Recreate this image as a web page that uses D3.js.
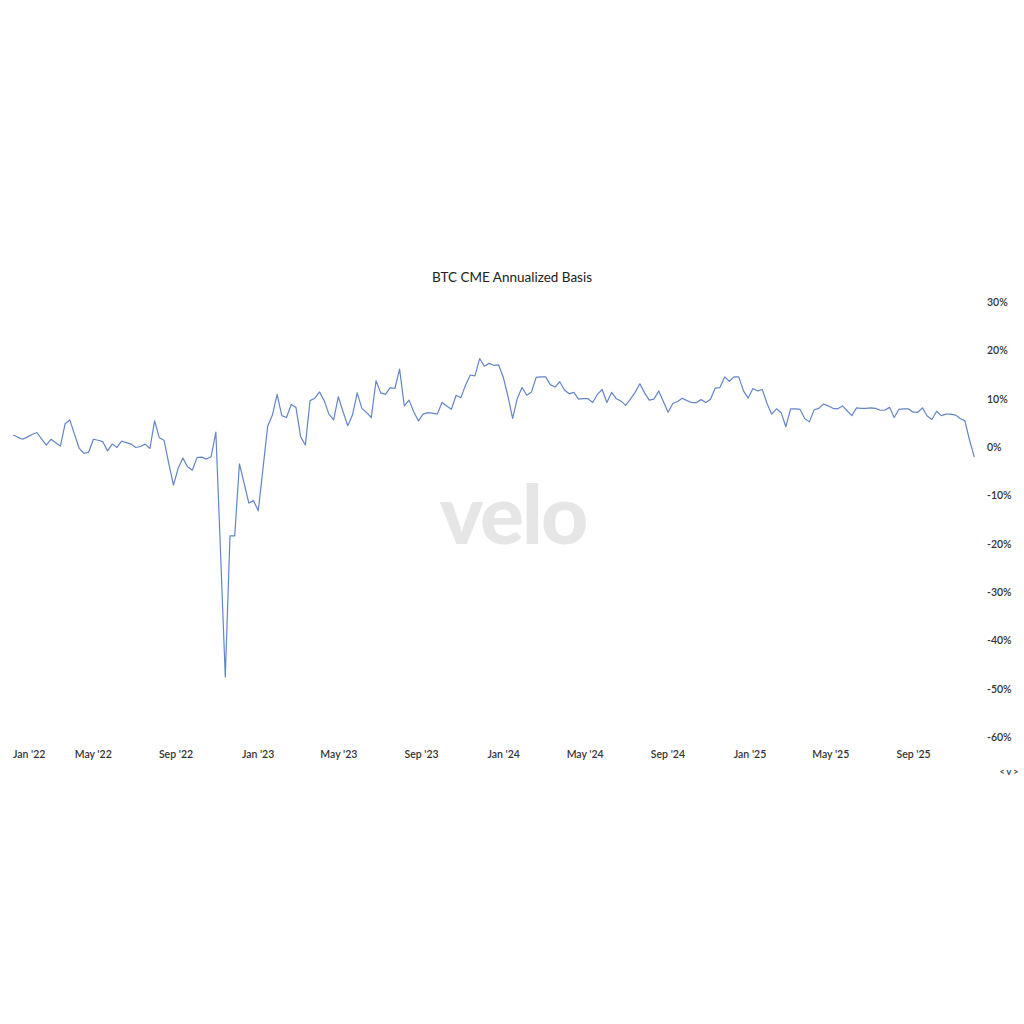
<!DOCTYPE html>
<html>
<head>
<meta charset="utf-8">
<script src="https://cdn.jsdelivr.net/npm/d3@7"></script>
<style>
  html, body { margin: 0; padding: 0; background: #ffffff; }
  svg { display: block; }
</style>
</head>
<body>
<svg id="chart" width="1024" height="1024"></svg>
<script>
// ---------- data ----------
const chartTitle = "BTC CME Annualized Basis";
const firstWeek = "2022-01-03";   // weekly readings (Mondays)
const lastWeek = "2025-12-01";
// annualized basis, % (one value per week)
const basisValues = [
  2.5, 2.0, 1.6, 2.1, 2.6, 3.0, 1.7, 0.4, 1.6, 0.9,
  0.2, 4.8, 5.6, 2.6, -0.3, -1.3, -1.1, 1.6, 1.4, 1.1,
  -0.8, 0.6, -0.1, 1.2, 0.9, 0.6, -0.1, 0.1, 0.6, -0.3,
  5.4, 1.9, 1.4, -3.4, -7.9, -4.4, -2.3, -4.1, -4.8, -2.2,
  -2.1, -2.5, -2.0, 3.1, -22.0, -47.6, -18.4, -18.4, -3.5, -7.5,
  -11.6, -11.1, -13.2, -4.5, 4.3, 6.6, 10.9, 6.5, 6.1, 8.8,
  8.2, 2.1, 0.4, 9.6, 10.1, 11.4, 9.6, 6.8, 5.6, 10.4,
  7.3, 4.4, 6.6, 11.2, 8.0, 7.1, 6.1, 13.7, 11.2, 10.9,
  12.3, 12.1, 16.1, 8.5, 9.7, 7.3, 5.4, 6.8, 7.1, 7.0,
  6.8, 9.2, 8.5, 7.8, 10.7, 10.2, 12.8, 14.9, 14.7, 18.3,
  16.7, 17.3, 16.9, 17.0, 14.5, 10.5, 5.9, 10.1, 12.3, 10.7,
  11.4, 14.4, 14.5, 14.5, 12.9, 12.4, 13.5, 11.8, 11.0, 11.3,
  9.9, 10.0, 10.0, 9.2, 10.9, 11.9, 9.2, 11.3, 10.0, 9.5,
  8.6, 9.9, 11.3, 13.1, 11.2, 9.7, 9.9, 11.6, 9.4, 7.2,
  9.0, 9.4, 10.1, 9.6, 9.2, 9.2, 9.8, 9.2, 9.9, 12.2,
  12.3, 14.5, 13.6, 14.5, 14.5, 11.6, 10.1, 12.1, 11.6, 11.9,
  9.0, 6.8, 7.9, 7.1, 4.2, 7.9, 7.9, 7.8, 5.9, 5.2,
  7.7, 8.0, 8.9, 8.5, 8.0, 7.9, 8.5, 7.5, 6.5, 8.1,
  8.0, 8.0, 8.1, 8.0, 7.6, 7.6, 8.2, 6.1, 7.8, 7.9,
  7.9, 7.2, 7.2, 8.1, 6.4, 5.7, 7.4, 6.5, 6.8, 6.8,
  6.6, 5.9, 5.4, 1.4, -2.1
];
const yTickValues = [30, 20, 10, 0, -10, -20, -30, -40, -50, -60];
const xTickDates = ["2022-01-01", "2022-05-01", "2022-09-01", "2023-01-01", "2023-05-01",
  "2023-09-01", "2024-01-01", "2024-05-01", "2024-09-01", "2025-01-01", "2025-05-01", "2025-09-01"];
const watermark = "velo";

// ---------- setup ----------
const parse = d3.timeParse("%Y-%m-%d");
const weekDates = d3.timeMonday.range(parse(firstWeek), d3.timeDay.offset(parse(lastWeek), 1));
const series = basisValues.map((v, i) => ({ date: weekDates[i], value: v }));

const svg = d3.select("#chart");
const fontFam = "Lato, 'Noto Sans', sans-serif";

const x = d3.scaleTime()
  .domain([parse(firstWeek), parse(lastWeek)])
  .range([13.3, 974.3]);
const y = d3.scaleLinear()
  .domain([-60, 30])
  .range([737, 302]);

// watermark
svg.append("text")
  .attr("x", 513).attr("y", 544)
  .attr("text-anchor", "middle")
  .attr("font-family", fontFam)
  .attr("font-weight", 900)
  .attr("font-size", 82)
  .attr("letter-spacing", -2)
  .attr("fill", "#e6e6e6")
  .text(watermark);

// title
svg.append("text")
  .attr("x", 512).attr("y", 282)
  .attr("text-anchor", "middle")
  .attr("font-family", fontFam)
  .attr("font-size", 13.5)
  .attr("fill", "#222")
  .text(chartTitle);

// y axis (right)
const yAxis = d3.axisRight(y)
  .tickValues(yTickValues)
  .tickSize(0)
  .tickPadding(0)
  .tickFormat(d => d + "%");
const yG = svg.append("g")
  .attr("transform", "translate(987,0)")
  .call(yAxis);
yG.select(".domain").remove();
yG.selectAll("text")
  .attr("font-family", fontFam)
  .attr("font-size", 10.5)
  .attr("font-weight", 600)
  .attr("fill", "#333");

// x axis
const xAxis = d3.axisBottom(x)
  .tickValues(xTickDates.map(parse))
  .tickSize(0)
  .tickPadding(0)
  .tickFormat(d3.timeFormat("%b '%y"));
const xG = svg.append("g")
  .attr("transform", "translate(0,751)")
  .call(xAxis);
xG.select(".domain").remove();
xG.selectAll("text")
  .attr("font-family", fontFam)
  .attr("font-size", 10.5)
  .attr("font-weight", 600)
  .attr("fill", "#333");
// keep the first label inside the canvas
xG.selectAll(".tick").each(function () {
  const t = d3.select(this);
  const txt = t.select("text").node();
  const bb = txt.getBBox();
  const tr = this.transform.baseVal.consolidate().matrix.e;
  if (tr + bb.x < 13) {
    d3.select(txt).attr("x", 13 - tr - bb.x);
  }
});

// small nav glyph
svg.append("text")
  .attr("x", 1009).attr("y", 775)
  .attr("text-anchor", "middle")
  .attr("font-family", fontFam)
  .attr("font-size", 9)
  .attr("font-weight", 700)
  .attr("fill", "#444")
  .text("< v >");

// line
const line = d3.line()
  .x(d => x(d.date))
  .y(d => y(d.value));
svg.append("path")
  .datum(series)
  .attr("fill", "none")
  .attr("stroke", "#6385c8")
  .attr("stroke-width", 1.2)
  .attr("stroke-linejoin", "round")
  .attr("d", line);
</script>
</body>
</html>
